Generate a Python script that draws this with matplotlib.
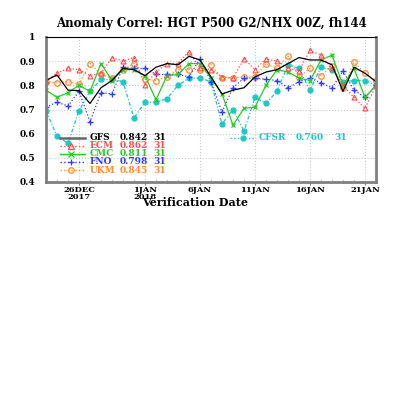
import matplotlib
matplotlib.use("Agg")
import matplotlib.pyplot as plt
from matplotlib.lines import Line2D

# day index 0 = 23 Dec 2017, 30 = 22 Jan 2018
days = list(range(31))
tick_days = [3, 9, 14, 19, 24, 29]
tick_labels = ["26DEC\n2017", "1JAN\n2018", "6JAN", "11JAN", "16JAN", "21JAN"]

gfs = [0.82, 0.843, 0.78, 0.778, 0.725, 0.79, 0.82, 0.87, 0.865, 0.84, 0.875,
       0.89, 0.885, 0.92, 0.905, 0.835, 0.764, 0.78, 0.79, 0.835, 0.855, 0.865,
       0.89, 0.915, 0.905, 0.905, 0.885, 0.775, 0.875, 0.85, 0.815]
ecm = [0.82, 0.85, 0.87, 0.865, 0.84, 0.85, 0.915, 0.9, 0.915, 0.8, 0.855,
       0.89, 0.89, 0.94, 0.87, 0.865, 0.835, 0.83, 0.91, 0.865, 0.91, 0.9,
       0.87, 0.86, 0.945, 0.925, 0.87, 0.8, 0.75, 0.705, 0.8]
cmc = [0.78, 0.75, 0.77, 0.8, 0.775, 0.89, 0.82, 0.865, 0.865, 0.84, 0.74,
       0.84, 0.845, 0.89, 0.89, 0.83, 0.765, 0.635, 0.705, 0.71, 0.8, 0.865,
       0.855, 0.83, 0.82, 0.905, 0.925, 0.8, 0.87, 0.75, 0.8]
fno = [0.71, 0.73, 0.715, 0.775, 0.65, 0.77, 0.765, 0.875, 0.87, 0.87, 0.845,
       0.845, 0.845, 0.835, 0.91, 0.815, 0.69, 0.79, 0.83, 0.83, 0.825, 0.82,
       0.79, 0.815, 0.83, 0.81, 0.79, 0.86, 0.78, 0.75, 0.8]
ukm = [0.815, 0.81, 0.815, 0.805, 0.89, 0.845, 0.83, 0.865, 0.89, 0.825, 0.82,
       0.835, 0.865, 0.865, 0.865, 0.885, 0.83, 0.83, 0.835, 0.835, 0.89, 0.87,
       0.92, 0.835, 0.87, 0.84, 0.88, 0.79, 0.895, 0.85, 0.82]
cfsr = [0.695, 0.59, 0.56, 0.695, 0.775, 0.825, 0.825, 0.815, 0.665, 0.73, 0.73,
        0.745, 0.8, 0.83, 0.83, 0.815, 0.64, 0.70, 0.61, 0.75, 0.725, 0.775,
        0.885, 0.87, 0.78, 0.875, 0.865, 0.815, 0.82, 0.82, 0.8]

names = ["GFS", "ECM", "CMC", "FNO", "UKM", "CFSR"]
scores = ["0.842", "0.862", "0.811", "0.798", "0.845", "0.760"]
counts = ["31", "31", "31", "31", "31", "31"]

black = "#000000"
red = "#ff4a4a"
green = "#22cc22"
blue = "#2e3cff"
orange = "#ff8a30"
cyan = "#1ec8c8"

font = dict(family="DejaVu Serif", weight="bold")

fig = plt.figure(figsize=(4, 4), dpi=100)
ax = fig.add_axes([46 / 400, 218 / 400, 330 / 400, 145 / 400])

ax.plot(days, cfsr, color=cyan, lw=0.9, ls=(0, (3, 1.5, 1, 1.5)), marker="o",
        ms=3.5, mfc=cyan, mec=cyan)
ax.plot(days, ukm, color=orange, lw=0.9, ls=":", marker="o", ms=4,
        mfc="none", mec=orange, mew=0.9)
ax.plot(days, fno, color=blue, lw=0.9, ls=":", marker="+", ms=5, mew=1)
ax.plot(days, cmc, color=green, lw=0.9, ls="-", marker="x", ms=3, mew=0.9)
ax.plot(days, ecm, color=red, lw=0.9, ls=":", marker="^", ms=3.5,
        mfc="none", mec=red, mew=0.8)
ax.plot(days, gfs, color=black, lw=0.9, ls="-")

ax.set_xlim(0, 30)
ax.set_ylim(0.4, 1.0)
ax.set_xticks(tick_days)
ax.set_xticks(days, minor=True)
ax.set_xticklabels(tick_labels, fontsize=6, linespacing=0.85, **font)
ax.set_yticks([0.4, 0.5, 0.6, 0.7, 0.8, 0.9, 1.0])
ax.set_yticklabels(["0.4", "0.5", "0.6", "0.7", "0.8", "0.9", "1"],
                   fontsize=6.5, **font)
ax.tick_params(axis="x", which="major", length=2.5, width=0.8, pad=0.5,
               color="#777777")
ax.tick_params(axis="x", which="minor", length=1.5, width=0.6,
               direction="in", color="#777777")
ax.tick_params(axis="y", length=0, pad=8)
ax.grid(True, which="major", color="#c8c8c8", ls=":", lw=0.8)

for side in ["left", "right", "bottom"]:
    ax.spines[side].set_color("#808080")
    ax.spines[side].set_linewidth(2)
ax.spines["top"].set_color("black")
ax.spines["top"].set_linewidth(0.8)

fig.text(211 / 400, 1 - 24 / 400, "Anomaly Correl: HGT P500 G2/NHX 00Z, fh144",
         ha="center", va="center", fontsize=8.5, **font)
fig.text(195 / 400, 1 - 203 / 400, "Verification Date", ha="center",
         va="center", fontsize=8, **font)

# legend block
colors = [black, red, green, blue, orange]
styles = ["-", ":", "-", ":", ":"]
markers = [None, "^", "x", "+", "o"]
rows_y = [138, 146, 154, 162, 170]
for k in range(5):
    yy = 1 - rows_y[k] / 400
    line = Line2D([60 / 400, 85 / 400], [yy, yy], transform=fig.transFigure,
                  color="#666666" if k == 0 else colors[k],
                  lw=1.8 if k == 0 else 1.0, ls=styles[k])
    fig.add_artist(line)
    if markers[k] is not None:
        mk = Line2D([71 / 400], [yy], transform=fig.transFigure,
                    color=colors[k], marker=markers[k], ms=4,
                    mfc="none", mec=colors[k], mew=0.9, ls="none")
        fig.add_artist(mk)
    fig.text(90 / 400, yy, names[k], color=colors[k], fontsize=6.5,
             va="center", **font)
    fig.text(120 / 400, yy, scores[k], color=colors[k], fontsize=6.5,
             va="center", **font)
    fig.text(153 / 400, yy, counts[k], color=colors[k], fontsize=6.5,
             va="center", **font)

yy = 1 - 138 / 400
fig.add_artist(Line2D([230 / 400, 256 / 400], [yy, yy], transform=fig.transFigure,
                      color=cyan, lw=1.0, ls=":"))
fig.add_artist(Line2D([243 / 400], [yy], transform=fig.transFigure, color=cyan,
                      marker="o", ms=3.5, ls="none"))
fig.text(259 / 400, yy, names[5], color=cyan, fontsize=6.5, va="center", **font)
fig.text(296 / 400, yy, scores[5], color=cyan, fontsize=6.5, va="center", **font)
fig.text(334 / 400, yy, counts[5], color=cyan, fontsize=6.5, va="center", **font)

fig.savefig("out.png", dpi=100)
